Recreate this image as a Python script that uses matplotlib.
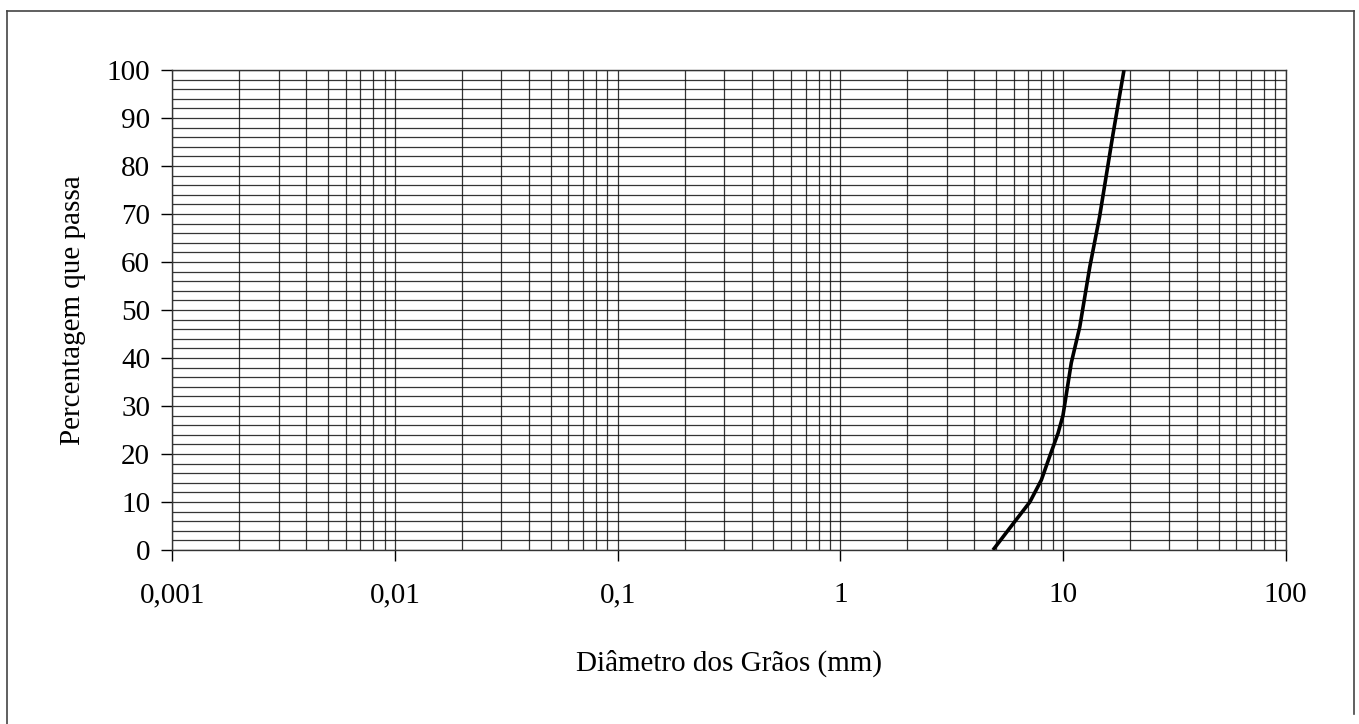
import matplotlib
matplotlib.use("Agg")
import matplotlib.pyplot as plt
from matplotlib.lines import Line2D
from matplotlib.ticker import FixedLocator, FixedFormatter, LogLocator, MultipleLocator, NullFormatter

# Data
diametro_mm = [4.85, 6.0, 7.1, 8.0, 8.7, 9.5, 10.0, 10.9, 11.9, 13.2, 14.6, 16.8, 18.8]
percentagem = [0.0, 5.6, 10.0, 14.6, 19.4, 24.3, 28.0, 39.0, 46.5, 59.0, 69.4, 86.8, 100.0]

x_ticks = [0.001, 0.01, 0.1, 1, 10, 100]
x_tick_labels = ["0,001", "0,01", "0,1", "1", "10", "100"]
y_ticks = [0, 10, 20, 30, 40, 50, 60, 70, 80, 90, 100]

plt.rcParams['font.family'] = ['Liberation Serif', 'DejaVu Serif']

fig = plt.figure(figsize=(13.59, 7.24), dpi=100)
ax = fig.add_axes([0.1268, 0.2403, 0.9460 - 0.1268, 0.9033 - 0.2403])

ax.set_xscale('log')
ax.set_xlim(0.001, 100)
ax.set_ylim(0, 100)

ax.xaxis.set_major_locator(FixedLocator(x_ticks))
ax.xaxis.set_major_formatter(FixedFormatter(x_tick_labels))
ax.xaxis.set_minor_locator(LogLocator(base=10, subs=[2, 3, 4, 5, 6, 7, 8, 9]))
ax.xaxis.set_minor_formatter(NullFormatter())
ax.yaxis.set_major_locator(FixedLocator(y_ticks))
ax.yaxis.set_minor_locator(MultipleLocator(2))

ax.grid(True, which='both', axis='both', color='#111111', linewidth=0.9, alpha=0.85)
ax.set_axisbelow(True)

ax.tick_params(axis='both', which='major', direction='out', length=8, width=1.0,
               color='black', labelsize=21)
ax.tick_params(axis='x', which='major', pad=15)
ax.tick_params(axis='y', which='major', pad=8)
ax.tick_params(axis='both', which='minor', length=0)

for s in ax.spines.values():
    s.set_color('#333333')
    s.set_linewidth(1.0)

ax.plot(diametro_mm, percentagem, color='black', linewidth=2.6, solid_capstyle='butt', zorder=5)

ax.set_xlabel('Diâmetro dos Grãos (mm)', fontsize=21, labelpad=30)
ax.set_ylabel('Percentagem que passa', fontsize=21, labelpad=15)

# figure border (left, top, right)
W, H = 1359.0, 724.0
xl, xr, yt = 7 / W, 1354 / W, 1 - 11 / H
yb = 1 - 714 / H
fig.add_artist(Line2D([xl, xl], [0, yt], transform=fig.transFigure, color='#444444', lw=1.2))
fig.add_artist(Line2D([xl, xr], [yt, yt], transform=fig.transFigure, color='#444444', lw=1.2))
fig.add_artist(Line2D([xr, xr], [yt, yb], transform=fig.transFigure, color='#444444', lw=1.2))

fig.savefig('out.png', dpi=100)
